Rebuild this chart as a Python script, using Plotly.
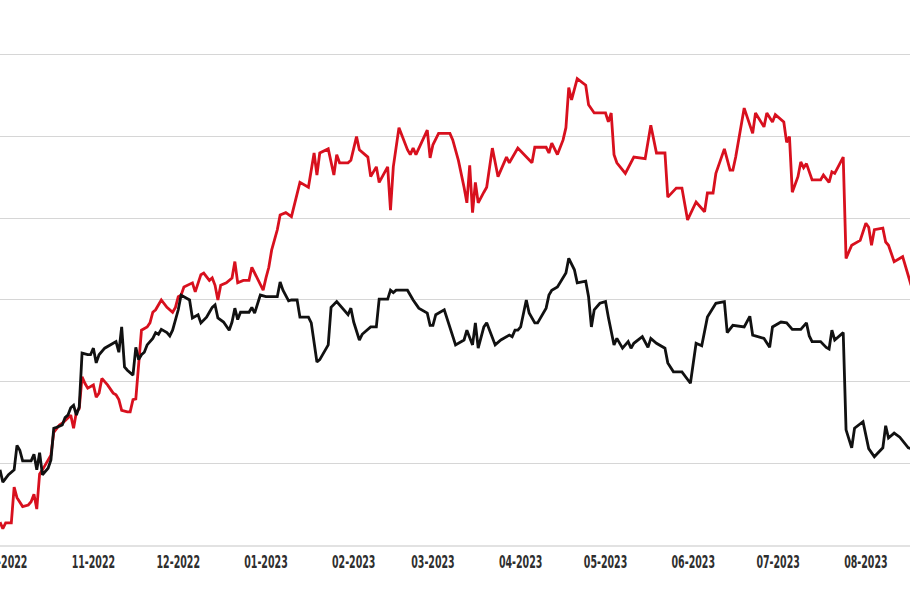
import pandas as pd
import plotly.graph_objects as go

START = "2022-09-29"

# red series: day offsets from START and values
red_days = [0, 1, 2, 4, 5, 6, 8, 10, 11, 12, 13, 14, 15, 18, 19, 20, 21, 22, 24, 25,
            26, 27, 28, 29, 30, 31, 33, 34, 35, 36, 38, 40, 41, 42, 43, 45, 46, 47, 48, 49,
            50, 52, 53, 54, 55, 57, 59, 61, 62, 63, 64, 65, 66, 68, 69, 71, 72, 73, 74, 75,
            76, 77, 78, 80, 81, 82, 83, 84, 86, 88, 89, 90, 91, 93, 94, 95, 96, 98, 99, 101,
            103, 106, 109, 111, 112, 113, 116, 118, 119, 120, 123, 124, 126, 127, 130, 131, 133, 134, 137, 138,
            139, 141, 144, 145, 146, 147, 149, 151, 152, 153, 155, 159, 160, 162, 164, 165, 166, 167, 168, 169,
            171, 172, 174, 176, 179, 180, 183, 186, 188, 189, 193, 194, 195, 197, 199, 200, 201, 202, 204, 207,
            208, 210, 214, 215, 216, 217, 218, 221, 223, 224, 228, 230, 232, 235, 236, 239, 241, 243, 246, 249,
            250, 252, 253, 256, 258, 259, 260, 263, 266, 267, 270, 271, 273, 274, 277, 278, 279, 280, 282, 283,
            284, 285, 287, 290, 291, 293, 294, 295, 298, 299, 301, 304, 306, 307, 308, 309, 312, 313, 314, 316,
            319, 321, 322]
red_vals = [2.8, 2.0, 2.7, 2.7, 7.1, 5.8, 4.7, 4.9, 5.3, 6.2, 4.4, 8.7, 9.2, 11.0, 13.8, 14.3, 14.7, 14.9, 15.6, 15.9,
            14.3, 16.3, 16.7, 20.6, 19.8, 19.2, 19.6, 18.1, 18.6, 20.4, 19.6, 18.6, 18.4, 17.8, 16.5, 16.3, 16.3, 17.8, 17.9, 22.4,
            26.3, 26.7, 27.2, 28.5, 28.8, 30.0, 29.1, 28.5, 29.1, 30.4, 30.6, 31.6, 31.8, 32.1, 31.0, 33.1, 33.3, 32.8, 32.4, 32.7,
            31.8, 30.0, 31.8, 32.1, 32.4, 32.7, 34.7, 32.1, 32.4, 32.4, 34.0, 33.3, 32.7, 31.2, 32.7, 34.0, 36.1, 38.6, 40.4, 40.7,
            40.2, 44.4, 43.8, 48.0, 45.3, 48.0, 48.5, 45.3, 47.8, 46.8, 46.8, 47.1, 50.0, 48.4, 47.5, 45.1, 46.3, 44.4, 46.3, 41.0,
            46.3, 51.1, 48.4, 47.8, 48.6, 47.8, 49.3, 50.8, 47.4, 49.0, 50.4, 50.4, 49.6, 47.1, 43.8, 41.9, 46.5, 40.7, 44.4, 41.9,
            43.2, 43.8, 48.6, 45.1, 47.5, 46.8, 48.6, 47.5, 46.8, 48.7, 48.7, 48.0, 49.2, 47.8, 49.6, 51.1, 56.0, 54.5, 57.1, 56.3,
            53.9, 52.9, 52.9, 51.8, 52.9, 47.8, 46.8, 45.5, 46.9, 47.5, 47.3, 51.4, 48.0, 48.0, 42.6, 43.7, 43.7, 39.8, 42.0, 40.8,
            43.1, 43.1, 45.5, 48.5, 45.9, 45.9, 47.5, 53.5, 50.4, 52.9, 51.2, 52.9, 51.8, 52.7, 51.8, 49.3, 50.0, 43.2, 45.1, 46.9,
            46.2, 46.7, 44.7, 44.7, 45.3, 44.4, 45.7, 45.5, 47.5, 35.1, 36.7, 37.3, 39.4, 38.9, 36.7, 38.6, 38.8, 37.1, 36.7, 34.7,
            35.3, 32.8, 31.8]

# black series
black_days = [0, 1, 3, 5, 6, 7, 8, 10, 11, 12, 13, 14, 15, 17, 18, 19, 20, 22, 23, 24,
              25, 26, 27, 28, 29, 31, 32, 33, 34, 35, 37, 40, 41, 42, 43, 44, 45, 47, 48, 49,
              50, 51, 52, 54, 55, 56, 57, 59, 60, 61, 63, 64, 65, 67, 68, 70, 71, 73, 74, 75,
              76, 77, 79, 81, 82, 83, 84, 85, 88, 89, 90, 92, 94, 96, 98, 99, 100, 102, 103, 105,
              106, 109, 110, 112, 113, 116, 117, 119, 121, 123, 124, 125, 127, 128, 131, 133, 134, 137, 138, 139,
              140, 144, 146, 148, 151, 152, 153, 154, 157, 160, 161, 164, 165, 167, 168, 169, 171, 172, 175, 177,
              180, 181, 182, 183, 184, 186, 187, 189, 190, 193, 194, 195, 197, 200, 201, 203, 204, 207, 208, 209,
              210, 212, 214, 215, 217, 218, 220, 222, 223, 224, 227, 229, 230, 232, 235, 236, 238, 241, 244, 246,
              248, 250, 253, 256, 257, 259, 263, 265, 266, 270, 272, 273, 276, 278, 280, 283, 285, 286, 287, 290,
              292, 293, 294, 295, 298, 299, 301, 302, 305, 307, 309, 312, 313, 314, 316, 318, 321, 322]
black_vals = [9.2, 7.7, 8.6, 9.2, 12.2, 11.6, 10.3, 10.3, 10.3, 11.1, 9.2, 11.3, 8.6, 9.4, 10.4, 14.3, 14.4, 14.7, 15.6, 15.9,
              16.8, 17.1, 15.9, 16.9, 23.5, 23.3, 23.3, 24.1, 22.3, 23.3, 24.1, 24.7, 24.9, 23.6, 26.7, 21.8, 21.4, 20.8, 24.2, 22.7,
              23.3, 23.6, 24.5, 25.3, 26.0, 25.8, 26.4, 26.0, 25.6, 26.3, 28.8, 30.6, 30.4, 30.0, 27.8, 28.2, 27.2, 27.9, 28.5, 29.1,
              29.4, 27.8, 27.3, 26.3, 27.3, 29.0, 27.6, 28.5, 28.5, 29.1, 28.4, 30.6, 30.4, 30.4, 30.4, 32.2, 31.2, 29.9, 30.0, 30.0,
              27.9, 27.9, 27.2, 22.4, 22.7, 24.5, 29.1, 29.8, 29.0, 28.2, 29.0, 27.3, 25.1, 25.8, 26.7, 26.7, 30.1, 30.1, 31.2, 30.9,
              31.2, 31.2, 30.0, 29.0, 28.4, 26.9, 26.9, 28.2, 28.8, 25.7, 24.5, 25.1, 26.3, 24.5, 27.2, 24.1, 26.7, 27.2, 24.5, 25.1,
              25.7, 25.5, 26.3, 26.3, 26.7, 30.0, 28.4, 27.2, 27.2, 29.0, 30.6, 31.2, 31.6, 33.3, 35.1, 33.7, 32.1, 32.3, 30.4, 26.7,
              28.8, 29.6, 29.8, 27.9, 24.5, 25.3, 24.1, 24.9, 24.1, 24.7, 25.5, 24.2, 25.3, 24.7, 24.1, 22.3, 21.2, 21.2, 19.8, 24.7,
              24.4, 27.9, 29.6, 29.8, 26.0, 26.9, 26.7, 28.0, 25.7, 25.3, 24.2, 26.7, 27.3, 27.2, 26.4, 26.4, 27.2, 25.6, 24.9, 24.9,
              24.2, 24.0, 26.3, 25.1, 26.0, 14.1, 11.9, 14.3, 15.1, 11.8, 10.8, 11.9, 14.6, 13.1, 13.7, 13.2, 11.9, 11.8]

y_ticks = [0, 10, 20, 30, 40, 50, 60]

start = pd.Timestamp(START)
red_x = start + pd.to_timedelta(red_days, unit="D")
black_x = start + pd.to_timedelta(black_days, unit="D")

fig = go.Figure()
fig.add_trace(go.Scatter(x=red_x, y=red_vals, mode="lines",
                         line=dict(color="#d8101e", width=2.8), showlegend=False))
fig.add_trace(go.Scatter(x=black_x, y=black_vals, mode="lines",
                         line=dict(color="#111111", width=2.8), showlegend=False))

x_end = start + pd.Timedelta(days=321.6)
fig.update_layout(
    width=910, height=596,
    margin=dict(l=0, r=0, t=50, b=51, autoexpand=False),
    paper_bgcolor="white", plot_bgcolor="white",
    xaxis=dict(
        type="date",
        range=[start, x_end],
        tick0="2022-10-01", dtick="M1", tickformat="%m-%Y",
        showgrid=False, zeroline=False, automargin=False,
        showline=True, linecolor="#e2e2e2", linewidth=2,
        ticks="", ticklabelstandoff=1, ticklabeloverflow="allow",
        tickfont=dict(family="DejaVu Sans Condensed, DejaVu Sans, sans-serif",
                      size=17, color="#2e2e2e", weight="bold"),
    ),
    yaxis=dict(
        range=[0, 60.61], tickvals=y_ticks, showticklabels=False,
        showgrid=True, gridcolor="#d6d6d6", gridwidth=1, zeroline=False,
        ticks="", automargin=False,
    ),
)

post = """
document.body.style.margin = '0';
var gd = document.getElementById('{plot_id}');
function squeezeTicks() {
  gd.querySelectorAll('.xtick text').forEach(function (t) {
    var tr = t.getAttribute('transform') || '';
    if (tr.indexOf('scale') < 0) { t.setAttribute('transform', tr + ' scale(0.62,1)'); }
  });
}
squeezeTicks();
if (gd.on) { gd.on('plotly_afterplot', squeezeTicks); }
"""

fig.write_html("out.html", post_script=post, config={"displayModeBar": False})
